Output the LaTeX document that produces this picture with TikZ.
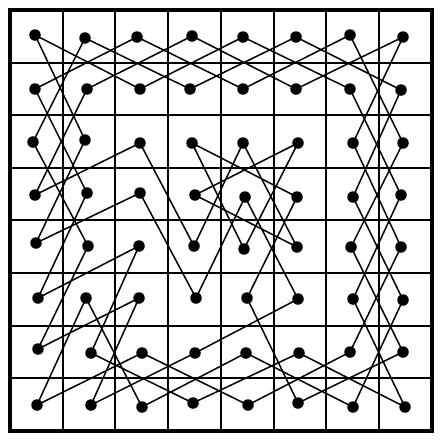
\documentclass[tikz,border=0pt]{standalone}
\begin{document}
\begin{tikzpicture}[x=1pt,y=-1pt,
  dot/.style={circle,fill=black,inner sep=0pt,minimum size=11.5pt},
  tourline/.style={line width=1.5pt,black,line cap=round},
  gridline/.style={line width=2pt,black},
  frameline/.style={line width=3.2pt,black}]
\useasboundingbox (0,0) rectangle (443,440);
\fill[white] (0,0) rectangle (443,440);
% grid
\foreach \k in {1,...,7}{
  \draw[gridline] ({10+\k*52.7},10) -- ({10+\k*52.7},431);
  \draw[gridline] (10,{10+\k*52.6}) -- (432,{10+\k*52.6});
}
\draw[frameline] (10,10) rectangle (432,431);
% dots: column/row/x/y
\foreach \c/\r/\x/\y in {
 1/1/35/35, 2/1/85/38, 3/1/137/37, 4/1/192/36, 5/1/243/37, 6/1/296/37, 7/1/350/35, 8/1/403/37,
 1/2/35/89, 2/2/87/89, 3/2/140/89, 4/2/190/89, 5/2/243/89, 6/2/296/89, 7/2/350/89, 8/2/401/90,
 1/3/33/142, 2/3/85/140, 3/3/140/143, 4/3/192/143, 5/3/243/143, 6/3/298/143, 7/3/353/143, 8/3/403/143,
 1/4/35/195, 2/4/87/193, 3/4/140/193, 4/4/195/195, 5/4/245/197, 6/4/297/197, 7/4/353/197, 8/4/401/195,
 1/5/36/243, 2/5/88/246, 3/5/139/246, 4/5/194/246, 5/5/244/249, 6/5/297/247, 7/5/351/247, 8/5/401/247,
 1/6/38/298, 2/6/86/298, 3/6/139/298, 4/6/196/298, 5/6/247/298, 6/6/298/299, 7/6/353/299, 8/6/403/300,
 1/7/38/349, 2/7/91/353, 3/7/142/353, 4/7/195/353, 5/7/246/353, 6/7/299/353, 7/7/350/352, 8/7/403/352,
 1/8/37/405, 2/8/91/405, 3/8/142/407, 4/8/193/403, 5/8/248/405, 6/8/298/403, 7/8/353/407, 8/8/405/407}
  {\node[dot] (p\c\r) at (\x,\y) {};}
% knight's tour
\foreach \a/\b in {
 11/32, 11/23, 21/42, 21/13, 31/12, 31/52, 41/22, 41/62,
 51/32, 51/72, 61/42, 61/82, 71/52, 71/83, 81/62, 81/73,
 12/24, 22/14, 72/84, 82/74,
 13/25, 23/15, 33/14, 33/45, 43/55, 43/64, 53/45, 53/65, 63/55, 63/44, 73/85, 83/75,
 24/16, 34/15, 34/46, 44/65, 54/46, 54/66, 64/56, 74/86, 84/76,
 25/17, 35/16, 35/27, 75/87, 85/77,
 26/18, 26/38, 36/17, 36/28, 56/68, 66/47, 76/88, 86/78,
 27/48, 37/18, 37/58, 47/28, 57/38, 57/78, 67/48, 67/88, 77/58, 87/68}
  {\draw[tourline] (p\a.center) -- (p\b.center);}
\end{tikzpicture}
\end{document}
